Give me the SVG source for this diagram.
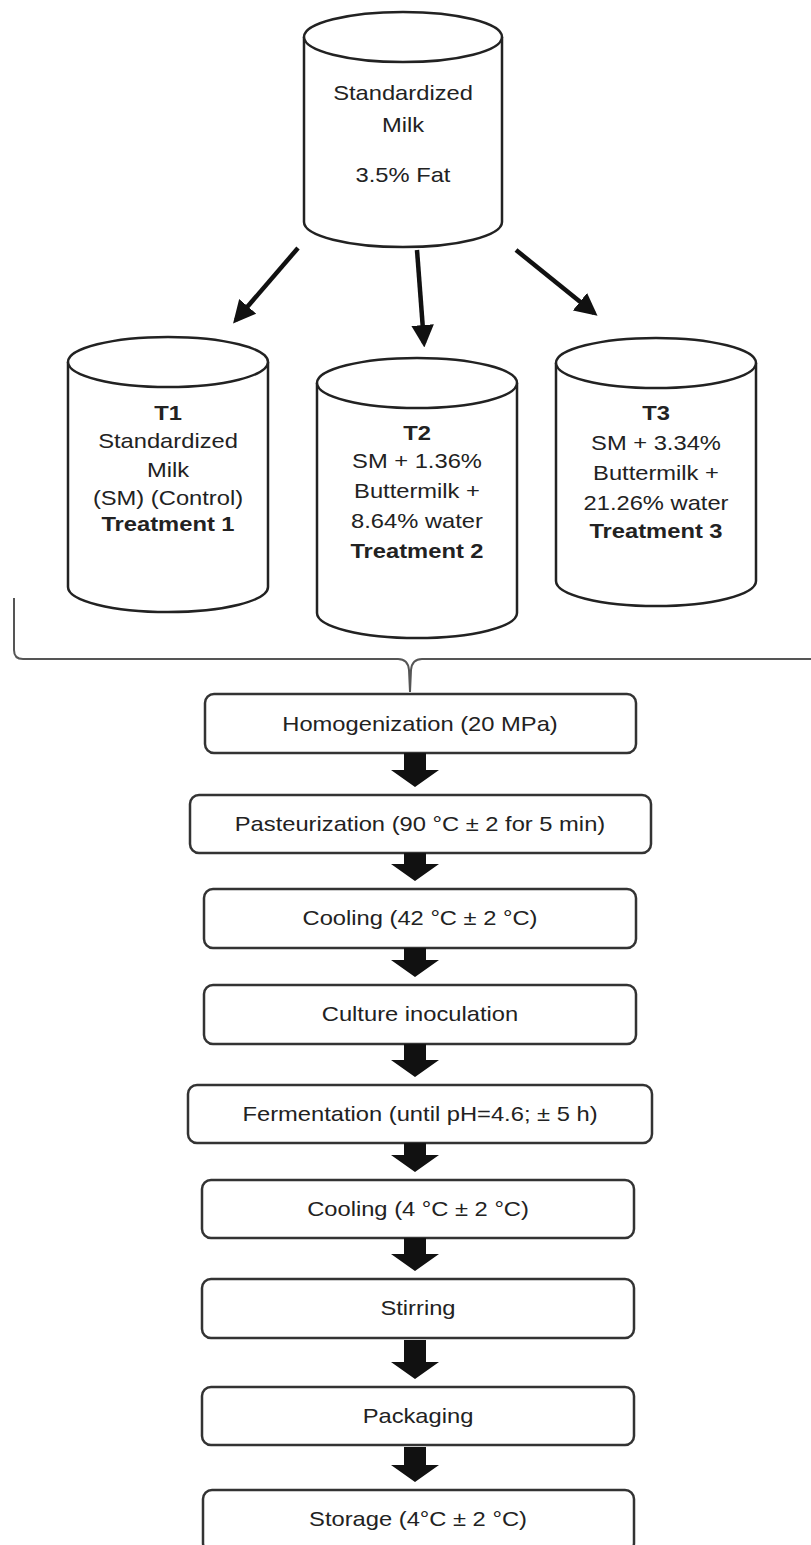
<svg xmlns="http://www.w3.org/2000/svg" width="811" height="1545" viewBox="0 0 811 1545">
<style>
.cyl{fill:#fff;stroke:#222;stroke-width:2.5}
.box{fill:#fff;stroke:#333;stroke-width:2.5}
text{font-family:"Liberation Sans",Arial,sans-serif;font-size:21px;fill:#222;text-anchor:middle}
.b{font-weight:bold}
.ln{stroke:#111;stroke-width:4.5;fill:none}
.blk{fill:#111}
.brace{fill:none;stroke:#555;stroke-width:2}
</style>
<defs>
<marker id="ah" markerWidth="5" markerHeight="5" refX="4" refY="2.5" orient="auto" markerUnits="strokeWidth">
<path d="M0,0 L5,2.5 L0,5 Z" fill="#111"/>
</marker>
</defs>
<rect width="811" height="1545" fill="#fff"/>

<g id="milk">
<path class="cyl" d="M304,37 L304,222 A99,25 0 0 0 502,222 L502,37"/>
<ellipse class="cyl" cx="403" cy="37" rx="99" ry="25"/>
<g transform="translate(403,0) scale(1.13,1)">
<text x="0" y="100">Standardized</text>
<text x="0" y="132">Milk</text>
<text x="0" y="182">3.5% Fat</text>
</g>
</g>

<g id="t1">
<path class="cyl" d="M68,362 L68,587 A100,25 0 0 0 268,587 L268,362"/>
<ellipse class="cyl" cx="168" cy="362" rx="100" ry="25"/>
<g transform="translate(168,0) scale(1.13,1)">
<text class="b" x="0" y="420">T1</text>
<text x="0" y="448">Standardized</text>
<text x="0" y="477">Milk</text>
<text x="0" y="505">(SM) (Control)</text>
<text class="b" x="0" y="531">Treatment 1</text>
</g>
</g>

<g id="t2">
<path class="cyl" d="M317,383 L317,613 A100,25 0 0 0 517,613 L517,383"/>
<ellipse class="cyl" cx="417" cy="383" rx="100" ry="25"/>
<g transform="translate(417,0) scale(1.13,1)">
<text class="b" x="0" y="440">T2</text>
<text x="0" y="468">SM + 1.36%</text>
<text x="0" y="498">Buttermilk +</text>
<text x="0" y="528">8.64% water</text>
<text class="b" x="0" y="558">Treatment 2</text>
</g>
</g>

<g id="t3">
<path class="cyl" d="M556,363 L556,581 A100,25 0 0 0 756,581 L756,363"/>
<ellipse class="cyl" cx="656" cy="363" rx="100" ry="25"/>
<g transform="translate(656,0) scale(1.13,1)">
<text class="b" x="0" y="420">T3</text>
<text x="0" y="450">SM + 3.34%</text>
<text x="0" y="480">Buttermilk +</text>
<text x="0" y="510">21.26% water</text>
<text class="b" x="0" y="538">Treatment 3</text>
</g>
</g>

<g id="brace">
<path class="brace" d="M14,598 L14,650 Q14,659 23,659 L398,659 Q408,659 409,670 L410,692 L411,670 Q412,659 422,659 L811,659"/>
</g>

<g id="s1"><rect class="box" x="205" y="694" width="431" height="59" rx="9"/>
<g transform="translate(420,0) scale(1.13,1)"><text x="0" y="731">Homogenization (20 MPa)</text></g></g>
<g id="s2"><rect class="box" x="190" y="795" width="461" height="58" rx="9"/>
<g transform="translate(420,0) scale(1.13,1)"><text x="0" y="831">Pasteurization (90 °C ± 2 for 5 min)</text></g></g>
<g id="s3"><rect class="box" x="204" y="889" width="432" height="59" rx="9"/>
<g transform="translate(420,0) scale(1.13,1)"><text x="0" y="925">Cooling (42 °C ± 2 °C)</text></g></g>
<g id="s4"><rect class="box" x="204" y="985" width="432" height="59" rx="9"/>
<g transform="translate(420,0) scale(1.13,1)"><text x="0" y="1021">Culture inoculation</text></g></g>
<g id="s5"><rect class="box" x="188" y="1085" width="464" height="58" rx="9"/>
<g transform="translate(420,0) scale(1.13,1)"><text x="0" y="1121">Fermentation (until pH=4.6; ± 5 h)</text></g></g>
<g id="s6"><rect class="box" x="202" y="1180" width="432" height="58" rx="9"/>
<g transform="translate(418,0) scale(1.13,1)"><text x="0" y="1216">Cooling (4 °C ± 2 °C)</text></g></g>
<g id="s7"><rect class="box" x="202" y="1279" width="432" height="59" rx="9"/>
<g transform="translate(418,0) scale(1.13,1)"><text x="0" y="1315">Stirring</text></g></g>
<g id="s8"><rect class="box" x="202" y="1387" width="432" height="58" rx="9"/>
<g transform="translate(418,0) scale(1.13,1)"><text x="0" y="1423">Packaging</text></g></g>
<g id="s9"><rect class="box" x="203" y="1490" width="431" height="62" rx="9"/>
<g transform="translate(418,0) scale(1.13,1)"><text x="0" y="1526">Storage (4°C ± 2 °C)</text></g></g>

<g id="connectors">
<line class="ln" x1="298" y1="248" x2="236" y2="320" marker-end="url(#ah)"/>
<line class="ln" x1="417" y1="250" x2="424" y2="343" marker-end="url(#ah)"/>
<line class="ln" x1="516" y1="250" x2="594" y2="313" marker-end="url(#ah)"/>
<path class="blk" d="M404,753 H426 V770 H439 L415,787 L391,770 H404 Z"/>
<path class="blk" d="M404,853 H426 V864 H439 L415,881 L391,864 H404 Z"/>
<path class="blk" d="M404,948 H426 V960 H439 L415,977 L391,960 H404 Z"/>
<path class="blk" d="M404,1044 H426 V1060 H439 L415,1077 L391,1060 H404 Z"/>
<path class="blk" d="M404,1143 H426 V1155 H439 L415,1172 L391,1155 H404 Z"/>
<path class="blk" d="M404,1238 H426 V1254 H439 L415,1271 L391,1254 H404 Z"/>
<path class="blk" d="M404,1340 H426 V1362 H439 L415,1379 L391,1362 H404 Z"/>
<path class="blk" d="M404,1447 H426 V1465 H439 L415,1482 L391,1465 H404 Z"/>
</g>
</svg>
